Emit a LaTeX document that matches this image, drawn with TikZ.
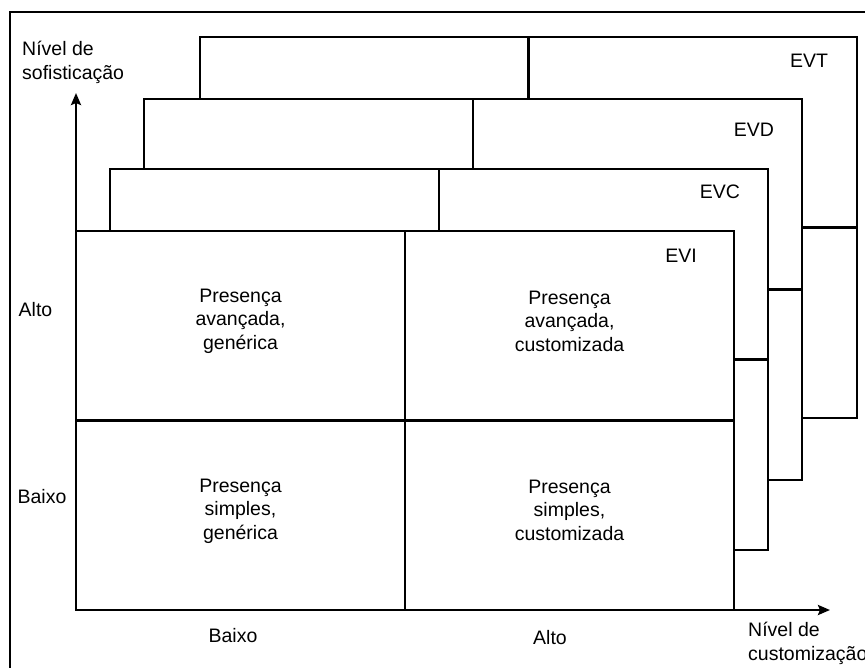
\documentclass[tikz,border=0pt]{standalone}
\usepackage{fontspec}
\setmainfont{Liberation Sans}
\usetikzlibrary{arrows.meta}
\begin{document}
\begin{tikzpicture}[x=1pt,y=-1pt,
  thick line/.style={line width=2.7pt},
  layer/.style={draw, fill=white, line width=2.7pt},
  lbl/.style={font=\fontsize{19.5}{23.5}\selectfont, inner sep=0pt},
  cell/.style={lbl, align=center},
  axislbl/.style={lbl, align=left, anchor=north west},
  axis/.style={line width=2.7pt, -{Stealth[length=12pt,width=10pt,inset=2pt]}}]
\useasboundingbox (0,0) rectangle (865,667);
\clip (0,0) rectangle (865,667);

% outer frame (runs past the right and bottom edges)
\draw[line width=2.2pt] (10,12) rectangle (900,700);

% stacked stages, back to front: each is a 2x2 grid
\draw[layer] (200,37) rectangle (857,418);
\draw[thick line] (528.5,37) -- (528.5,418) (200,227.5) -- (857,227.5);
\draw[layer] (144,99) rectangle (802,480);
\draw[thick line] (473,99) -- (473,480) (144,289.5) -- (802,289.5);
\draw[layer] (110,169) rectangle (768,550);
\draw[thick line] (439,169) -- (439,550) (110,359.5) -- (768,359.5);
\draw[layer] (76,231) rectangle (734,610);
\draw[thick line] (405,231) -- (405,610) (76,420.5) -- (734,420.5);

% stage labels
\node[lbl] (evt) at (809,61) {EVT};
\node[lbl] (evd) at (754,130) {EVD};
\node[lbl] (evc) at (720,192) {EVC};
\node[lbl] (evi) at (681,256) {EVI};

% quadrant texts
\node[cell] (q11) at (240.5,321) {Presença\\avançada,\\genérica};
\node[cell] (q12) at (569.5,321) {Presença\\avançada,\\customizada};
\node[cell] (q21) at (240.5,511) {Presença\\simples,\\genérica};
\node[cell] (q22) at (569.5,510) {Presença\\simples,\\customizada};

% axis levels
\node[lbl] (yhigh) at (35.5,310) {Alto};
\node[lbl] (ylow) at (42,497) {Baixo};
\node[lbl] (xlow) at (233,636) {Baixo};
\node[lbl] (xhigh) at (550,638) {Alto};

% axis titles
\node[axislbl] (ytitle) at (22,41) {Nível de\\sofisticação};
\node[axislbl] (xtitle) at (748,622) {Nível de\\customização};

% axes
\coordinate (O) at (76,610);
\coordinate (ytip) at (76,93);
\coordinate (xtip) at (830,610);
\draw[axis] (O) -- (ytip);
\draw[axis] (O) -- (xtip);
\end{tikzpicture}
\end{document}
